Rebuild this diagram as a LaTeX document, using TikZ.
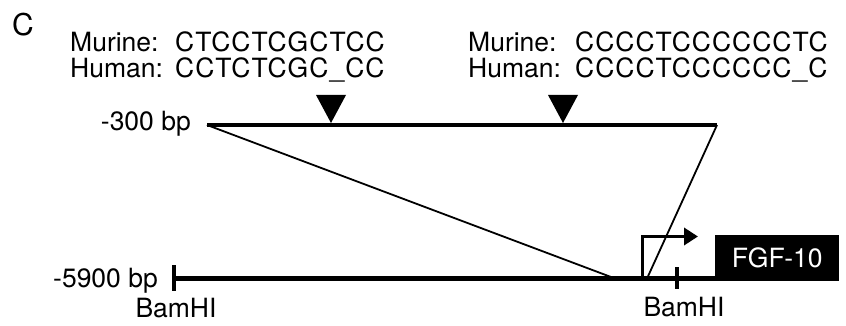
\documentclass[tikz,border=0pt]{standalone}
\usepackage{fontspec}
\setmainfont{TeX Gyre Heros}
\usetikzlibrary{arrows.meta}
\begin{document}
\begin{tikzpicture}[x=1pt,y=-1pt,
  lbl/.style={inner sep=0pt,font=\fontsize{26.5}{30}\selectfont},
  seq/.style={inner sep=0pt,font=\fontsize{26.5}{30}\selectfont\addfontfeature{LetterSpace=3.8}},
  thick line/.style={line width=4.2pt},
  thin line/.style={line width=1.8pt},
  marker/.style={fill=black,draw=none},
  tickmark/.style={line width=3.8pt},
  promoter/.style={line width=3.6pt,-{Triangle[length=14pt,width=17pt]}}]
\useasboundingbox (0,0) rectangle (846,326);
% panel letter
\node[lbl,anchor=base west,font=\fontsize{30}{32}\selectfont] (C) at (12,36) {C};
% sequence labels
\node[lbl,anchor=base west] (m1) at (70,52) {Murine:};
\node[seq,anchor=base west] (ms1) at (175,52) {CTCCTCGCTCC};
\node[lbl,anchor=base west] (h1) at (70,78) {Human:};
\node[seq,anchor=base west] (hs1) at (175,78) {CCTCTCGC\_CC};
\node[lbl,anchor=base west] (m2) at (468,52) {Murine:};
\node[seq,anchor=base west] (ms2) at (575,52) {CCCCTCCCCCCTC};
\node[lbl,anchor=base west] (h2) at (468,78) {Human:};
\node[seq,anchor=base west] (hs2) at (575,78) {CCCCTCCCCCC\_C};
% coordinates
\coordinate (tl) at (207,125);
\coordinate (tr) at (717,125);
\coordinate (bl) at (173,278.5);
\coordinate (bm1) at (615,278.5);
\coordinate (bm2) at (647,278.5);
\coordinate (tss) at (642.5,278.5);
\coordinate (tssup) at (642.5,236.5);
\coordinate (tsstip) at (698,236.5);
% gene box
\node[fill=black,text=white,lbl,minimum width=124pt,minimum height=46pt,anchor=north west] (fgf) at (715,235) {FGF-10};
% lines
\draw[thick line] (tl) -- (tr);
\draw[thick line] (bl) -- (fgf.west |- bl);
\draw[thin line] (tl) -- (bm1);
\draw[thin line] (tr) -- (bm2);
% bp labels
\node[lbl,anchor=base east] (l300) at (191,131) {-300 bp};
\node[lbl,anchor=base east] (l5900) at (158,287) {-5900 bp};
% BamHI ticks
\coordinate (b1a) at (174,265);
\coordinate (b1b) at (174,291);
\coordinate (b2a) at (677,267);
\coordinate (b2b) at (677,289);
\draw[tickmark] (b1a) -- (b1b);
\draw[tickmark] (b2a) -- (b2b);
\node[lbl,anchor=base] (bam1) at (176,317) {BamHI};
\node[lbl,anchor=base] (bam2) at (684,316) {BamHI};
% promoter arrow
\draw[promoter] (tss) -- (tssup) -- (tsstip);
% triangles
\coordinate (tri1) at (331,123);
\coordinate (tri2) at (563,123);
\fill[marker] (tri1) -- ++(-15,-28) -- ++(30,0) -- cycle;
\fill[marker] (tri2) -- ++(-15,-28) -- ++(30,0) -- cycle;
\end{tikzpicture}
\end{document}
